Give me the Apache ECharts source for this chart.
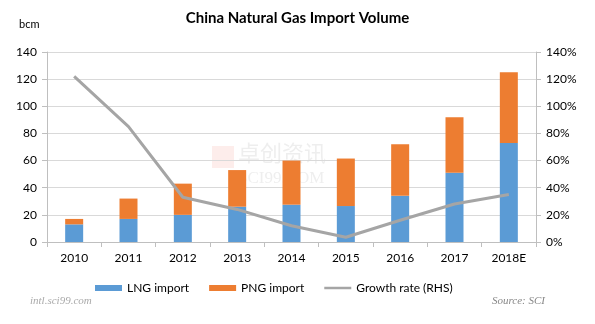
<!DOCTYPE html>
<html>
<head>
<meta charset="utf-8">
<script src="https://cdn.jsdelivr.net/npm/echarts@6/dist/echarts.min.js"></script>
<style>html,body{margin:0;padding:0;background:#fff}#c{width:595px;height:324px}</style>
</head>
<body>
<div id="c"></div>
<script>
const categories = ['2010','2011','2012','2013','2014','2015','2016','2017','2018E'];
const lngImport = [13, 17, 20, 26, 27.5, 26.5, 34, 51, 73];
const pngImport = [4, 15, 23, 27, 32.5, 35, 38, 41, 52];
const growthRate = [122, 85, 33, 24, 12, 3.5, 16, 28, 35];
const leftTicks = [0, 140, 20];
const rightTicks = [0, 140, 20];

const FONT = 'Lato';
const chart = echarts.init(document.getElementById('c'), null, {renderer: 'canvas'});
chart.setOption({
  animation: false,
  backgroundColor: '#ffffff',
  textStyle: {fontFamily: FONT},
  title: {
    text: 'China Natural Gas Import Volume',
    left: 'center', top: 6,
    textStyle: {fontFamily: FONT, fontSize: 15, fontWeight: 'bold', color: '#000'}
  },
  graphic: [
    {type: 'text', left: 19, top: 19, style: {text: 'bcm', fontFamily: FONT, fontSize: 11, fill: '#000'}},
    {type: 'text', right: 50, top: 296, style: {text: 'Source: SCI', fontFamily: 'Liberation Serif', fontStyle: 'italic', fontSize: 11, fill: '#888'}},
    {type: 'text', left: 30, top: 296, style: {text: 'intl.sci99.com', fontFamily: 'Liberation Serif', fontStyle: 'italic', fontSize: 11, fill: '#aaa'}},
    {type: 'rect', left: 212, top: 146, shape: {width: 22, height: 22}, style: {fill: 'rgba(235,110,90,0.12)'}},
    {type: 'text', left: 238, top: 142, style: {text: '卓创资讯', fontFamily: 'Noto Sans CJK SC', fontSize: 22, fill: 'rgba(160,160,160,0.18)'}},
    {type: 'text', left: 238, top: 170, style: {text: 'SCI99.COM', fontFamily: 'Liberation Serif', fontSize: 17, fill: 'rgba(170,170,170,0.2)'}}
  ],
  legend: {
    bottom: 25, left: 90, itemGap: 20,
    itemWidth: 27, itemHeight: 6,
    textStyle: {fontFamily: FONT, fontSize: 12, color: '#000'},
    data: [
      {name: 'LNG import', icon: 'rect'},
      {name: 'PNG import', icon: 'rect'},
      {name: 'Growth rate (RHS)', icon: 'path://M0,0 L27,0 L27,2.5 L0,2.5 Z'}
    ]
  },
  grid: {left: 47, right: 59, top: 52, bottom: 82},
  xAxis: {
    type: 'category', data: categories,
    axisLine: {lineStyle: {color: '#bfbfbf'}},
    axisTick: {show: true, length: 5, lineStyle: {color: '#bfbfbf'}},
    axisLabel: {fontFamily: FONT, fontSize: 12, color: '#000', margin: 10}
  },
  yAxis: [
    {
      type: 'value', min: leftTicks[0], max: leftTicks[1], interval: leftTicks[2],
      axisLine: {show: true, lineStyle: {color: '#bfbfbf'}},
      axisTick: {show: true, length: 5, lineStyle: {color: '#bfbfbf'}},
      splitLine: {lineStyle: {color: '#d9d9d9'}},
      axisLabel: {fontFamily: FONT, fontSize: 12, color: '#000', margin: 10}
    },
    {
      type: 'value', min: rightTicks[0], max: rightTicks[1], interval: rightTicks[2],
      position: 'right',
      axisLine: {show: true, lineStyle: {color: '#bfbfbf'}},
      axisTick: {show: true, length: 5, lineStyle: {color: '#bfbfbf'}},
      splitLine: {show: false},
      axisLabel: {fontFamily: FONT, fontSize: 12, color: '#000', margin: 10, formatter: '{value}%'}
    }
  ],
  series: [
    {name: 'LNG import', type: 'bar', stack: 'v', data: lngImport, barWidth: 18, itemStyle: {color: '#5B9BD5'}},
    {name: 'PNG import', type: 'bar', stack: 'v', data: pngImport, barWidth: 18, itemStyle: {color: '#ED7D31'}},
    {name: 'Growth rate (RHS)', type: 'line', yAxisIndex: 1, data: growthRate, symbol: 'none',
     lineStyle: {color: '#A5A5A5', width: 3}, itemStyle: {color: '#A5A5A5'}}
  ]
});
</script>
</body>
</html>
